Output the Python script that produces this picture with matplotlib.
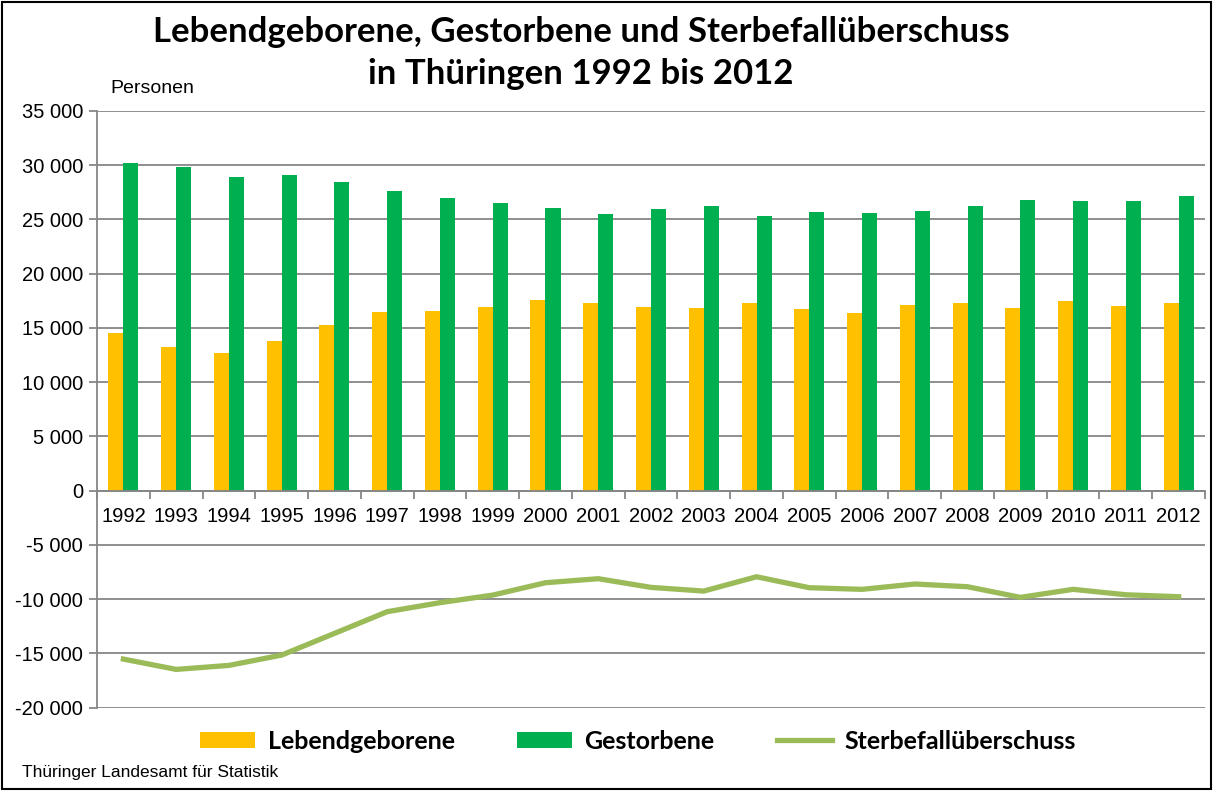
import numpy as np
import matplotlib
matplotlib.use("Agg")
import matplotlib.pyplot as plt
from matplotlib.patches import Rectangle
from matplotlib.ticker import FuncFormatter

# Daten
jahre = [str(j) for j in range(1992, 2013)]
lebendgeborene = [14560, 13270, 12680, 13760, 15240, 16470, 16590, 16900, 17550, 17330,
                  16960, 16870, 17300, 16710, 16400, 17140, 17300, 16810, 17510, 17050, 17330]
gestorbene = [30170, 29860, 28900, 29060, 28470, 27670, 26990, 26560, 26070, 25490,
              26010, 26230, 25300, 25670, 25610, 25820, 26260, 26750, 26690, 26690, 27150]
sterbefallueberschuss = [-15520, -16470, -16100, -15150, -13150, -11150, -10320, -9620, -8480, -8110,
                         -8910, -9250, -7930, -8940, -9090, -8600, -8850, -9830, -9090, -9590, -9770]

plt.rcParams['font.family'] = ['Liberation Sans', 'DejaVu Sans']

fig = plt.figure(figsize=(12.13, 7.91), dpi=100)
ax = fig.add_axes([0.080, 0.1053, 0.9134, 0.7544])

x = np.arange(len(jahre))
bw = 0.285
b1 = ax.bar(x - bw, lebendgeborene, width=bw, align='edge', color='#FFC000', label='Lebendgeborene', zorder=3)
b2 = ax.bar(x, gestorbene, width=bw, align='edge', color='#00B050', label='Gestorbene', zorder=3)
l1, = ax.plot(x, sterbefallueberschuss, color='#9BBB59', lw=3.8, label='Sterbefallüberschuss', zorder=4)

ax.set_xlim(-0.5, len(jahre) - 0.5)
ax.set_ylim(-20000, 35000)
ax.set_yticks(np.arange(-20000, 35001, 5000))
ax.yaxis.set_major_formatter(FuncFormatter(lambda v, p: f"{int(v):,}".replace(",", " ")))
ax.grid(axis='y', color='#868686', lw=1.3, zorder=0)

for s in ['top', 'right']:
    ax.spines[s].set_visible(False)
ax.spines['left'].set_color('#868686')
ax.spines['left'].set_linewidth(1.3)
ax.spines['bottom'].set_position(('data', 0))
ax.spines['bottom'].set_color('#868686')
ax.spines['bottom'].set_linewidth(1.3)
ax.spines['bottom'].set_zorder(5)

ax.set_xticks(x)
ax.set_xticklabels(jahre)
ax.set_xticks(np.arange(-0.5, len(jahre)), minor=True)
ax.tick_params(axis='x', which='major', length=0, pad=12, labelsize=14.5)
ax.tick_params(axis='x', which='minor', length=6, color='#868686', width=1.3)
ax.tick_params(axis='y', length=6, color='#868686', width=1.3, labelsize=14.5, pad=4)

titel = ['Lebendgeborene, Gestorbene und Sterbefallüberschuss', 'in Thüringen 1992 bis 2012']
fig.text(0.479, 0.959, titel[0], ha='center', va='center', fontsize=25,
         fontweight='bold', family=['Lato', 'DejaVu Sans'])
fig.text(0.479, 0.907, titel[1], ha='center', va='center', fontsize=25,
         fontweight='bold', family=['Lato', 'DejaVu Sans'])
fig.text(0.091, 0.888, 'Personen', ha='left', va='center', fontsize=14)
fig.text(0.018, 0.024, 'Thüringer Landesamt für Statistik', ha='left', va='center', fontsize=12.5)

fig.legend([b1, b2, l1], ['Lebendgeborene', 'Gestorbene', 'Sterbefallüberschuss'],
           loc='center', bbox_to_anchor=(0.526, 0.063), ncol=3, frameon=False,
           prop={'family': ['Lato', 'DejaVu Sans'], 'weight': 'bold', 'size': 18},
           handlelength=2.2, handleheight=0.6, columnspacing=2.5, handletextpad=0.5)

fig.add_artist(Rectangle((0.002, 0.003), 0.996, 0.994, transform=fig.transFigure,
                         fill=False, edgecolor='black', lw=1.5))

fig.savefig('out.png', dpi=100)
